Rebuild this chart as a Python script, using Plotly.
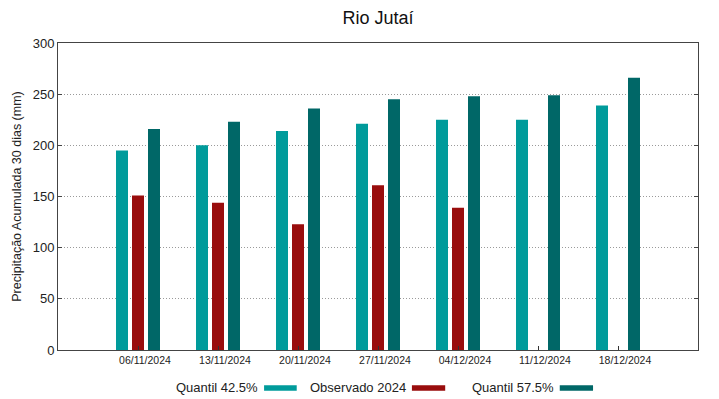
import plotly.graph_objects as go

dates = ["06/11/2024", "13/11/2024", "20/11/2024", "27/11/2024", "04/12/2024", "11/12/2024", "18/12/2024"]
q425 = [195, 200, 214, 221, 225, 225, 239]
obs2024 = [151, 144, 123, 161, 139, None, None]
q575 = [216, 223, 236, 245, 248, 249, 266]
y_ticks = [0, 50, 100, 150, 200, 250, 300]

names = ["Quantil 42.5%", "Observado 2024", "Quantil 57.5%"]
colors = ["#009b9b", "#990d0d", "#006767"]

xpos = list(range(len(dates)))
FONT = "Liberation Sans, Arial, sans-serif"

fig = go.Figure()
for name, vals, col in zip(names, [q425, obs2024, q575], colors):
    fig.add_trace(go.Bar(x=xpos, y=vals, name=name, marker=dict(color=col, line=dict(width=0)),
                         showlegend=False))

# manual legend: text followed by colour swatch (gnuplot style)
legend_text_right = [0.315, 0.547, 0.778]
legend_sw = [(0.322, 0.373), (0.553, 0.605), (0.784, 0.836)]
for name, col, tx, (s0, s1) in zip(names, colors, legend_text_right, legend_sw):
    fig.add_annotation(text=name, xref="paper", yref="paper", x=tx, y=-0.122,
                       xanchor="right", yanchor="middle", showarrow=False,
                       font=dict(size=13, color="#222", family=FONT))
    fig.add_shape(type="rect", xref="paper", yref="paper", x0=s0, x1=s1,
                  y0=-0.133, y1=-0.115, fillcolor=col, line=dict(width=0))

fig.update_layout(
    width=719, height=399,
    margin=dict(l=58, r=21, t=43, b=49),
    paper_bgcolor="white", plot_bgcolor="white",
    barmode="group", bargap=0.4, bargroupgap=0.25,
    font=dict(family=FONT, color="#222"),
    title=dict(text="Rio Jutaí", x=0.5257, xanchor="center", y=0.955, yanchor="middle",
               font=dict(size=18, family=FONT, color="#111")),
)
fig.update_xaxes(
    range=[-1, 7], tickvals=xpos, ticktext=dates, ticks="inside", ticklen=4,
    tickcolor="#333", showline=True, linecolor="#444", linewidth=1, mirror=True,
    showgrid=False, zeroline=False, tickfont=dict(size=10.5, family=FONT, color="#222"),
    ticklabelshift=7,
)
fig.update_yaxes(
    range=[0, 300], tickvals=y_ticks, ticks="inside", ticklen=4, tickcolor="#444",
    showline=True, linecolor="#444", linewidth=1, mirror="ticks",
    showgrid=True, gridcolor="#9a9a9a", griddash="1px,2px", gridwidth=1, zeroline=False,
    tickfont=dict(size=13, family=FONT, color="#222"),
    title=dict(text="Precipitação Acumulada 30 dias (mm)", font=dict(size=12.5, family=FONT, color="#222"),
               standoff=8),
)

fig.write_html("out.html", config={"displayModeBar": False},
               post_script="document.body.style.margin='0';document.body.style.overflow='hidden';")
